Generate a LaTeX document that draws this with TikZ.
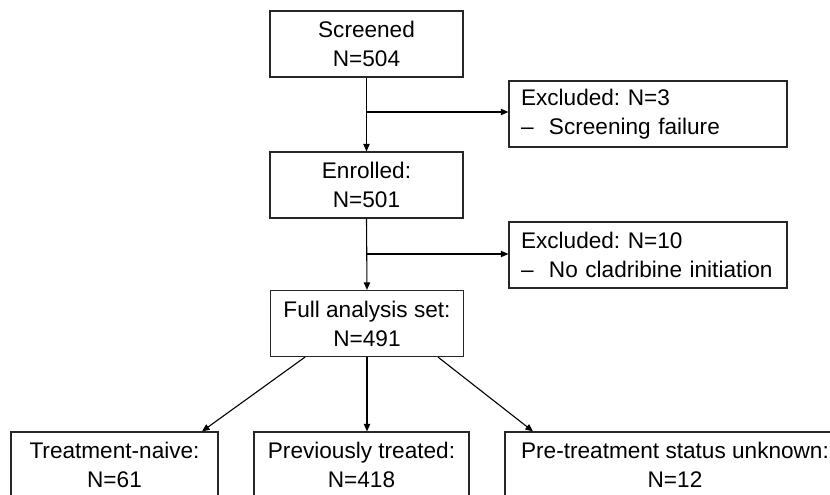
\documentclass[tikz,border=0pt]{standalone}
\usepackage{fontspec}
\setmainfont{Liberation Sans}
\usepackage{tikz}
\usetikzlibrary{arrows.meta, positioning}
\tikzset{
  box/.style={rectangle, draw=black!85, line width=0.6pt, minimum height=33pt, align=center, inner sep=2pt, font=\fontsize{11.3pt}{14.5pt}\selectfont\frenchspacing},
  mainbox/.style={box, minimum width=96.5pt},
  exclbox/.style={box, minimum width=139pt, align=left, inner xsep=6pt, text width=127pt},
  arrow/.style={-{Triangle[length=3.8pt, width=3.2pt]}, line width=0.55pt}
}
\newcommand{\bul}{\makebox[14pt][l]{\textendash}}

\begin{document}
\begin{tikzpicture}[x=0.5pt, y=-0.5pt]
  \useasboundingbox (0,0) rectangle (830,494);
  % main column
  \node[mainbox] (scr) at (366.5,44) {Screened\\N=504};
  \node[mainbox] (enr) at (366.5,185) {Enrolled:\\N=501};
  \node[mainbox] (fas) at (367,323.5) {Full analysis set:\\N=491};
  % exclusions
  \node[exclbox] (ex1) at (648,114) {Excluded: N=3\\\mbox{\bul Screening failure}};
  \node[exclbox] (ex2) at (648,255) {Excluded: N=10\\\mbox{\bul No cladribine initiation}};
  % subgroups
  \node[box, minimum width=103.5pt] (tn) at (114.5,465) {Treatment-naive:\\N=61};
  \node[box, minimum width=107.5pt] (pt) at (361.5,465) {Previously treated:\\N=418};
  \node[box, minimum width=170pt] (pu) at (675,465) {Pre-treatment status unknown:\\N=12};
  \coordinate (b1) at (scr.south |- 0,112);
  \coordinate (b2) at (enr.south |- 0,254);
  \draw[arrow] (scr.south) -- (enr.north);
  \draw[arrow] (b1) -- (b1 -| ex1.west);
  \draw[arrow] (enr.south) -- (fas.north);
  \draw[arrow] (b2) -- (b2 -| ex2.west);
  \draw[arrow] ([xshift=-31pt]fas.south) -- ([xshift=43.75pt]tn.north);
  \draw[arrow] (fas.south) -- (fas.south |- pt.north);
  \draw[arrow] ([xshift=35.5pt]fas.south) -- ([xshift=-71pt]pu.north);
\end{tikzpicture}
\end{document}
